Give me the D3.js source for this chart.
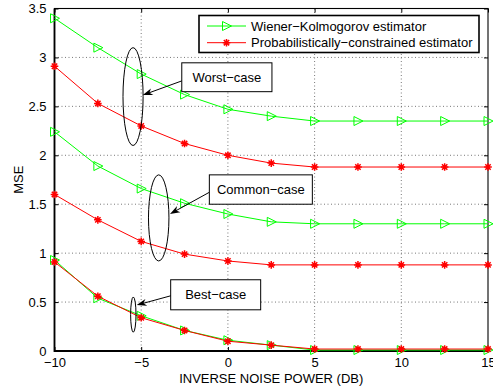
<!DOCTYPE html>
<html>
<head>
<meta charset="utf-8">
<script src="https://cdn.jsdelivr.net/npm/d3@7"></script>
<style>
  body { margin: 0; background: #fff; }
  svg { display: block; font-family: "Liberation Sans", Arial, sans-serif; }
</style>
</head>
<body>
<svg id="chart" width="493" height="387"></svg>
<script>
// inverse noise power (dB)
var xVals = [-10, -7.5, -5, -2.5, 0, 2.5, 5, 7.5, 10, 12.5, 15];

// Wiener-Kolmogorov (green) and probabilistically-constrained (red)
var wkWorst  = [3.40, 3.10, 2.83, 2.62, 2.47, 2.40, 2.35, 2.35, 2.35, 2.35, 2.35];
var pcWorst  = [2.91, 2.53, 2.30, 2.12, 2.00, 1.92, 1.88, 1.88, 1.88, 1.88, 1.88];
var wkCommon = [2.24, 1.89, 1.66, 1.51, 1.40, 1.32, 1.30, 1.30, 1.30, 1.30, 1.30];
var pcCommon = [1.60, 1.34, 1.12, 0.99, 0.92, 0.88, 0.88, 0.88, 0.88, 0.88, 0.88];
var wkBest   = [0.93, 0.54, 0.36, 0.21, 0.11, 0.06, 0.01, 0.01, 0.01, 0.01, 0.01];
var pcBest   = [0.91, 0.56, 0.34, 0.21, 0.10, 0.06, 0.02, 0.02, 0.02, 0.02, 0.02];

var xTicks = [-10, -5, 0, 5, 10, 15];
var yTicks = [0, 0.5, 1, 1.5, 2, 2.5, 3, 3.5];
var legendLabels = ["Wiener\u2212Kolmogorov estimator", "Probabilistically\u2212constrained estimator"];

// annotation labels, ellipses and arrows (data units)
var notes = [
  {label: "Worst\u2212case",  ell: [-5.47, 2.60, 0.58, 0.50], box: [-2.66, 2.54, 2.945, 2.65], arrow: [-2.66, 2.76, -4.91, 2.615]},
  {label: "Common\u2212case", ell: [-3.99, 1.36, 0.59, 0.44], box: [-1.07, 4.87, 1.80, 1.50],  arrow: [-1.09, 1.62, -3.34, 1.40]},
  {label: "Best\u2212case",   ell: [-5.455, 0.372, 0.155, 0.18], box: [-3.30, 1.89, 0.728, 0.421], arrow: [-3.30, 0.564, -5.26, 0.469]}
];

var GREEN = "#00ff00", RED = "#ff0000";
var svg = d3.select("#chart");
var plotL = 54.5, plotR = 488, plotT = 8.5, plotB = 351;

var x = d3.scaleLinear().domain([-10, 15]).range([plotL, plotR]);
var y = d3.scaleLinear().domain([0, 3.5]).range([plotB, plotT]);

// grid
var grid = svg.append("g").attr("stroke", "#555").attr("stroke-width", 0.8).attr("stroke-dasharray", "1,2.5");
grid.selectAll(".gx").data(xTicks.slice(1, -1)).enter().append("line")
  .attr("x1", d => x(d)).attr("x2", d => x(d)).attr("y1", plotT).attr("y2", plotB);
grid.selectAll(".gy").data(yTicks.slice(1, -1)).enter().append("line")
  .attr("y1", d => y(d)).attr("y2", d => y(d)).attr("x1", plotL).attr("x2", plotR);

// axes with inward ticks on all four sides
var tickLen = 4;
svg.append("g").attr("transform", "translate(0," + plotB + ")")
  .call(d3.axisBottom(x).tickValues(xTicks).tickSizeInner(-tickLen).tickSizeOuter(0).tickPadding(7)
    .tickFormat(d => d < 0 ? "\u2212" + Math.abs(d) : d));
svg.append("g").attr("transform", "translate(" + plotL + ",0)")
  .call(d3.axisLeft(y).tickValues(yTicks).tickSizeInner(-tickLen).tickSizeOuter(0).tickPadding(8)
    .tickFormat(d => String(d)));
svg.append("g").attr("transform", "translate(0," + plotT + ")")
  .call(d3.axisTop(x).tickValues(xTicks).tickSizeInner(-tickLen).tickSizeOuter(0).tickFormat(""));
svg.append("g").attr("transform", "translate(" + plotR + ",0)")
  .call(d3.axisRight(y).tickValues(yTicks).tickSizeInner(-tickLen).tickSizeOuter(0).tickFormat(""));
svg.selectAll(".domain").remove();
svg.selectAll(".tick line").attr("stroke", "#000");
svg.selectAll(".tick text").attr("font-size", 13).attr("fill", "#000").attr("font-family", "Liberation Sans, Arial, sans-serif");

// box
svg.append("rect").attr("x", plotL).attr("y", plotT).attr("width", plotR - plotL).attr("height", plotB - plotT)
  .attr("fill", "none").attr("stroke", "#000").attr("stroke-width", 1.1);
svg.append("path").attr("d", "M" + plotL + "," + plotT + "V" + plotB + "H" + plotR)
  .attr("fill", "none").attr("stroke", "#000").attr("stroke-width", 1.8);

// series
var series = [
  {v: wkWorst, c: GREEN, m: "tri"}, {v: pcWorst, c: RED, m: "star"},
  {v: wkCommon, c: GREEN, m: "tri"}, {v: pcCommon, c: RED, m: "star"},
  {v: wkBest, c: GREEN, m: "tri"}, {v: pcBest, c: RED, m: "star"}
];
var line = d3.line().x((d, i) => x(xVals[i])).y(d => y(d));

function drawMarker(g, kind, color, cx, cy) {
  if (kind == "tri") {
    g.append("path").attr("d", "M" + (cx - 4) + "," + (cy - 4.5) + "L" + (cx + 5) + "," + cy + "L" + (cx - 4) + "," + (cy + 4.5) + "Z")
      .attr("fill", "none").attr("stroke", color).attr("stroke-width", 1);
  } else {
    var r = 3.8, q = r * 0.7071;
    g.append("path").attr("d",
        "M" + (cx - r) + "," + cy + "h" + 2 * r +
        "M" + cx + "," + (cy - r) + "v" + 2 * r +
        "M" + (cx - q) + "," + (cy - q) + "l" + 2 * q + "," + 2 * q +
        "M" + (cx - q) + "," + (cy + q) + "l" + 2 * q + "," + (-2 * q))
      .attr("fill", "none").attr("stroke", color).attr("stroke-width", 1.5);
  }
}

series.forEach(function(s) {
  var g = svg.append("g");
  g.append("path").datum(s.v).attr("d", line).attr("fill", "none").attr("stroke", s.c).attr("stroke-width", 1);
  s.v.forEach(function(d, i) { drawMarker(g, s.m, s.c, x(xVals[i]), y(d)); });
});

// annotations
var ann = svg.append("g");
notes.forEach(function(n) {
  var e = n.ell;
  ann.append("ellipse").attr("cx", x(e[0])).attr("cy", y(e[1]))
    .attr("rx", x(e[0] + e[2]) - x(e[0])).attr("ry", y(e[1] - e[3]) - y(e[1]))
    .attr("fill", "none").attr("stroke", "#000").attr("stroke-width", 1);
  var b = n.box;
  ann.append("rect").attr("x", x(b[0])).attr("y", y(b[2]))
    .attr("width", x(b[1]) - x(b[0])).attr("height", y(b[3]) - y(b[2]))
    .attr("fill", "#fff").attr("stroke", "#000").attr("stroke-width", 1);
  ann.append("text").attr("x", (x(b[0]) + x(b[1])) / 2).attr("y", (y(b[2]) + y(b[3])) / 2 + 4.5)
    .attr("text-anchor", "middle").attr("font-size", 13).text(n.label);
  var a = n.arrow;
  var x1 = x(a[0]), y1 = y(a[1]), x2 = x(a[2]), y2 = y(a[3]);
  var ang = Math.atan2(y2 - y1, x2 - x1);
  ann.append("line").attr("x1", x1).attr("y1", y1).attr("x2", x2 - 5 * Math.cos(ang)).attr("y2", y2 - 5 * Math.sin(ang))
    .attr("stroke", "#000").attr("stroke-width", 1);
  var hl = 10, hw = 3.5, back = 7;
  var px = -Math.sin(ang), py = Math.cos(ang);
  var bx = x2 - hl * Math.cos(ang), by = y2 - hl * Math.sin(ang);
  var mx = x2 - back * Math.cos(ang), my = y2 - back * Math.sin(ang);
  ann.append("path")
    .attr("d", "M" + x2 + "," + y2 + "L" + (bx + px * hw) + "," + (by + py * hw) + "L" + mx + "," + my +
      "L" + (bx - px * hw) + "," + (by - py * hw) + "Z")
    .attr("fill", "#000");
});

// legend
var lg = svg.append("g");
lg.append("rect").attr("x", 199).attr("y", 15.5).attr("width", 280).attr("height", 37)
  .attr("fill", "#fff").attr("stroke", "#000").attr("stroke-width", 1.6);
[{c: GREEN, m: "tri"}, {c: RED, m: "star"}].forEach(function(s, i) {
  var yy = 26 + i * 16.7;
  lg.append("line").attr("x1", 207).attr("x2", 246).attr("y1", yy).attr("y2", yy).attr("stroke", s.c).attr("stroke-width", 1);
  drawMarker(lg, s.m, s.c, 226.5, yy);
  lg.append("text").attr("x", 251).attr("y", yy + 4.6).attr("font-size", 13).text(legendLabels[i]);
});

// axis labels
svg.append("text").attr("x", (plotL + plotR) / 2).attr("y", 383).attr("text-anchor", "middle")
  .attr("font-size", 13).text("INVERSE NOISE POWER (DB)");
svg.append("text").attr("transform", "translate(23," + (plotT + plotB) / 2 + ") rotate(-90)")
  .attr("text-anchor", "middle").attr("font-size", 13).text("MSE");
</script>
</body>
</html>
